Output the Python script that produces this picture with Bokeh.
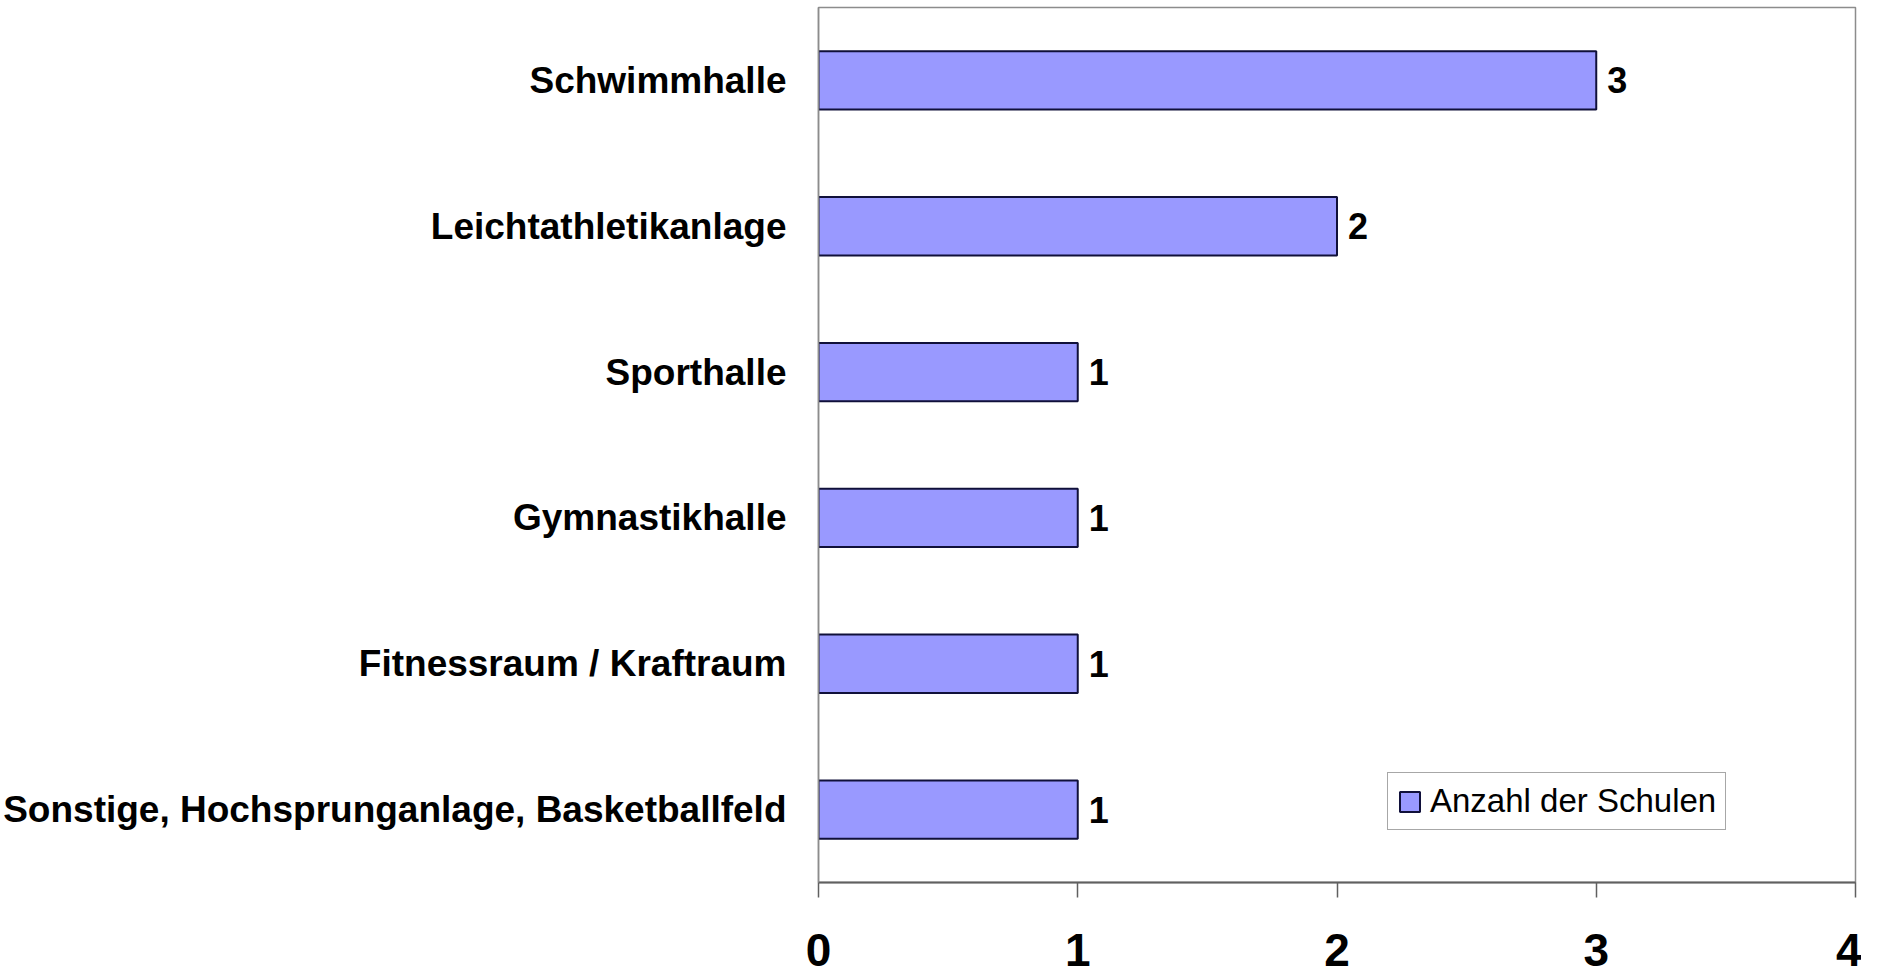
from bokeh.plotting import figure
from bokeh.models import ColumnDataSource, FactorRange, Range1d, Legend, LegendItem, FixedTicker
from bokeh.core.properties import value
from bokeh.embed import file_html
from bokeh.resources import INLINE

categories = ["Schwimmhalle", "Leichtathletikanlage", "Sporthalle", "Gymnastikhalle",
              "Fitnessraum / Kraftraum", "Sonstige, Hochsprunganlage, Basketballfeld"]
counts = [3, 2, 1, 1, 1, 1]
series_name = "Anzahl der Schulen"
x_ticks = [0, 1, 2, 3, 4]

FONT = "Liberation Sans"

src = ColumnDataSource(dict(cat=categories, val=counts, lab=[str(v) for v in counts]))

p = figure(width=1861, height=977, output_backend="svg", toolbar_location=None,
           y_range=FactorRange(factors=list(reversed(categories)), range_padding=0),
           x_range=Range1d(0, 4),
           min_border_left=810, min_border_right=6, min_border_top=7, min_border_bottom=95)

r = p.hbar(y="cat", right="val", left=0, height=0.4, source=src,
           fill_color="#9999FF", line_color="#10103a", line_width=2)

p.text(x="val", y="cat", text="lab", source=src, x_offset=11,
       text_align="left", text_baseline="middle",
       text_font=value(FONT), text_font_size="36px", text_font_style="bold", text_color="black")

p.xgrid.visible = False
p.ygrid.visible = False
p.background_fill_color = "white"
p.border_fill_color = "white"
p.outline_line_color = "#8c8c8c"
p.outline_line_width = 1.5

xa = p.xaxis[0]
xa.ticker = FixedTicker(ticks=x_ticks)
xa.axis_line_color = "#606060"
xa.axis_line_width = 2
xa.major_tick_line_color = "#606060"
xa.major_tick_line_width = 1.5
xa.major_tick_in = 0
xa.major_tick_out = 15
xa.minor_tick_line_color = None
xa.major_label_standoff = 36
xa.major_label_text_line_height = 0.6
xa.major_label_text_font = FONT
xa.major_label_text_font_style = "bold"
xa.major_label_text_font_size = "46px"
xa.major_label_text_color = "black"

ya = p.yaxis[0]
ya.axis_line_color = "#8c8c8c"
ya.axis_line_width = 1.5
ya.major_tick_line_color = None
ya.minor_tick_line_color = None
ya.major_tick_in = 0
ya.major_tick_out = 0
ya.major_label_standoff = 32
ya.major_label_text_font = FONT
ya.major_label_text_font_style = "bold"
ya.major_label_text_font_size = "37px"
ya.major_label_text_color = "black"

legend = Legend(items=[LegendItem(label=series_name, renderers=[r])],
                location=(569, 52), orientation="vertical",
                border_line_color="#505050", border_line_width=1.5,
                background_fill_color="white", background_fill_alpha=1,
                padding=9, margin=0, spacing=0,
                glyph_width=25, glyph_height=25, label_standoff=8,
                label_text_font=FONT, label_text_font_size="33px",
                label_text_color="black", label_height=30)
p.add_layout(legend, "center")

open("out.html", "w").write(file_html(p, INLINE))
